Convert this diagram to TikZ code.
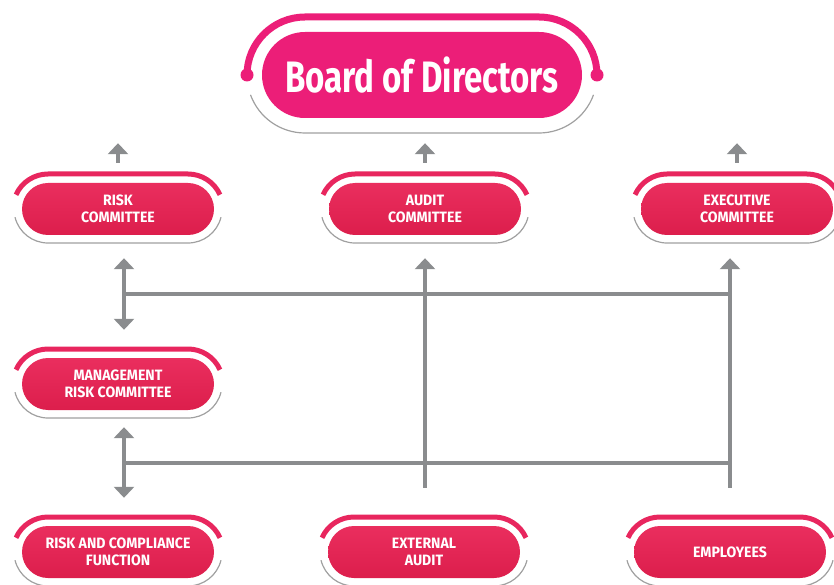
\documentclass[tikz,border=0pt]{standalone}
\usepackage{fontspec}
\setmainfont{Fira Sans}
\newfontfamily\boardfont{Fira Sans}[FakeStretch=0.75]
\newfontfamily\pillfont{Fira Sans}[FakeStretch=0.94]
\usepackage{tikz}
\usetikzlibrary{arrows.meta, positioning, calc}

\definecolor{boardpink}{RGB}{236,30,120}
\definecolor{pilltop}{RGB}{234,46,94}
\definecolor{pillbot}{RGB}{220,30,76}
\definecolor{arcpink}{RGB}{232,38,94}
\definecolor{linkgray}{RGB}{138,140,142}
\definecolor{edgegray}{RGB}{160,160,160}

\tikzset{
  pill/.style={rectangle, rounded corners=26pt, minimum width=192pt, minimum height=52pt,
               inner sep=0pt, top color=pilltop, bottom color=pillbot, text=white, align=center,
               font=\pillfont\bfseries\fontsize{15}{17.5}\selectfont},
  board/.style={rectangle, rounded corners=43pt, minimum width=320pt, minimum height=86pt,
               inner sep=0pt, fill=boardpink, text=white,
               font=\boardfont\bfseries\fontsize{44}{50}\selectfont},
  rimpink/.style={draw=arcpink, line width=5pt},
  rimgray/.style={draw=edgegray, line width=1.2pt},
  link/.style={draw=linkgray, line width=4pt},
  tipup/.style={-{Triangle[width=20pt,length=11pt]}},
  tipboth/.style={{Triangle[width=20pt,length=11pt]}-{Triangle[width=20pt,length=11pt]}}
}

% frame round a small pill
\newcommand{\pillrim}[1]{%
  \draw[rimpink] ([shift={(156:35)}]#1.center) ++(-70,0) arc[start angle=156, end angle=90, radius=35]
                 -- ++(140,0) arc[start angle=90, end angle=24, radius=35];
  \draw[rimgray] ([shift={(194:34)}]#1.center) ++(-70,0) arc[start angle=194, end angle=270, radius=34]
                 -- ++(140,0) arc[start angle=270, end angle=346, radius=34];
}

\begin{document}
\begin{tikzpicture}[x=1pt, y=1pt]

\useasboundingbox (0,0) rectangle (834,584);

% draw board
\node[board] (board) at (422, 509) {Board of Directors};
\draw[rimpink, line width=7pt, draw=boardpink] ([shift={(180:58)}]board.center) ++(-117,0) arc[start angle=180, end angle=90, radius=58]
                                             -- ++(234,0) arc[start angle=90, end angle=0, radius=58];
\fill[boardpink] ([xshift=-175pt]board.center) circle (6.5);
\fill[boardpink] ([xshift=175pt]board.center) circle (6.5);
\draw[rimgray] ([shift={(200:58)}]board.center) ++(-117,0) arc[start angle=200, end angle=270, radius=58]
               -- ++(234,0) arc[start angle=270, end angle=340, radius=58];
\coordinate (bd) at ([yshift=-25pt]board.south);

% draw committees
\node[pill] (risk) at (118, 375) {RISK\\COMMITTEE};
\node[pill] (audit) at (425, 375) {AUDIT\\COMMITTEE};
\node[pill] (exec) at (737, 375) {EXECUTIVE\\COMMITTEE};
\node[pill] (mgmt) at (118, 200) {MANAGEMENT\\RISK COMMITTEE};
\node[pill] (riskfn) at (118, 32) {RISK AND COMPLIANCE\\FUNCTION};
\node[pill] (ext) at (424, 32) {EXTERNAL\\AUDIT};
\node[pill] (staff) at (730, 32) {EMPLOYEES};

\pillrim{risk}
\pillrim{audit}
\pillrim{exec}
\pillrim{mgmt}
\pillrim{riskfn}
\pillrim{ext}
\pillrim{staff}

% draw arrows up to the board
\draw[link, tipup] ([yshift=20pt]risk.north) -- (risk.north |- bd);
\draw[link, tipup] ([yshift=20pt]audit.north) -- (audit.north |- bd);
\draw[link, tipup] ([yshift=20pt]exec.north) -- (exec.north |- bd);

% draw double arrows on the left
\coordinate (up1) at ([xshift=6pt, yshift=-23pt]risk.south);
\coordinate (dn1) at ([xshift=6pt, yshift=28pt]mgmt.north);
\coordinate (up2) at ([xshift=6pt, yshift=-17pt]mgmt.south);
\coordinate (dn2) at ([xshift=6pt, yshift=28pt]riskfn.north);
\draw[link, tipboth] (up1) -- (dn1);
\draw[link, tipboth] (up2) -- (dn2);

% draw crossing lines
\coordinate (mid1) at ($(up1)!0.5!(dn1)$);
\coordinate (mid2) at ($(up2)!0.5!(dn2)$);
\coordinate (foot) at ([yshift=38pt]ext.north);
\draw[link] (mid1) -- (staff.north |- mid1);
\draw[link] (mid2) -- (staff.north |- mid2);
\draw[link, tipup] (audit.south |- foot) -- (audit.south |- up1);
\draw[link, tipup] (staff.north |- foot) -- (staff.north |- up1);

\end{tikzpicture}
\end{document}
